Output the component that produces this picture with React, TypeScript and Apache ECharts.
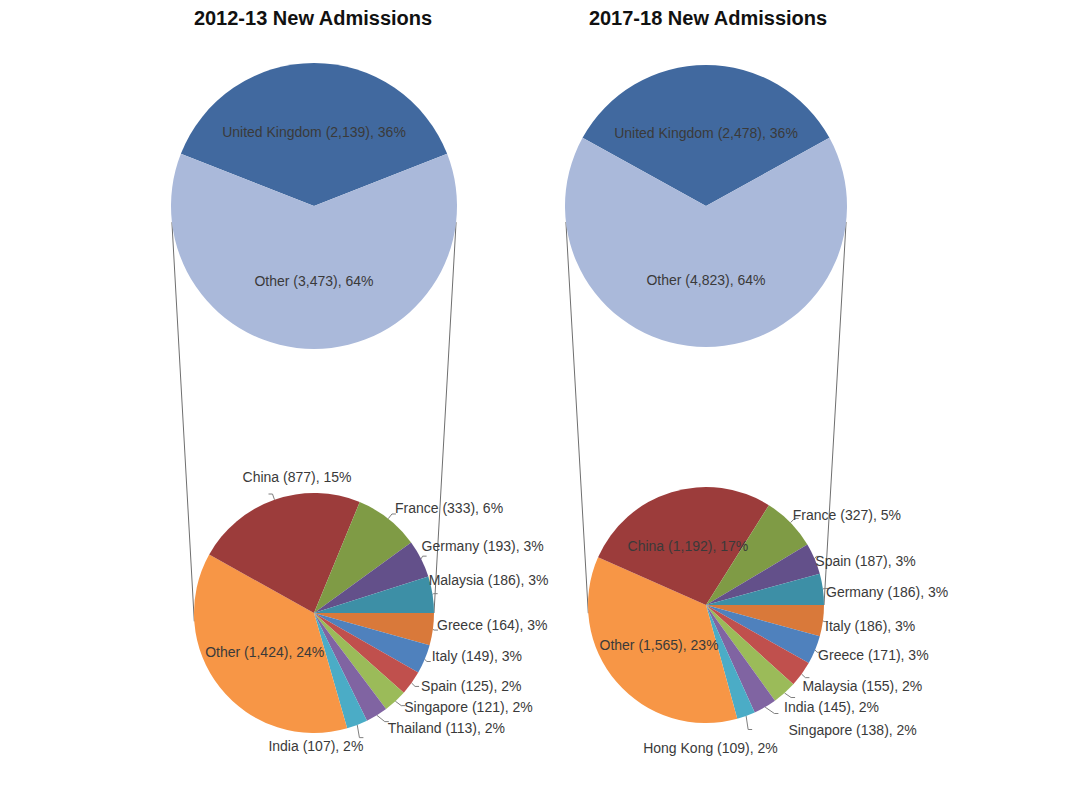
import React, { useEffect, useRef } from "react";
import * as echarts from "echarts";

// ---- Data ----
const titles = ["2012-13 New Admissions", "2017-18 New Admissions"];

const topCategories = ["United Kingdom", "Other"];
const topValues2012 = [2139, 3473];
const topPct2012 = [36, 64];
const topValues2017 = [2478, 4823];
const topPct2017 = [36, 64];

const cats2012 = ["Greece", "Italy", "Spain", "Singapore", "Thailand", "India", "Other", "China", "France", "Germany", "Malaysia"];
const vals2012 = [164, 149, 125, 121, 113, 107, 1424, 877, 333, 193, 186];
const pct2012 = [3, 3, 2, 2, 2, 2, 24, 15, 6, 3, 3];

const cats2017 = ["Italy", "Greece", "Malaysia", "India", "Singapore", "Hong Kong", "Other", "China", "France", "Spain", "Germany"];
const vals2017 = [186, 171, 155, 145, 138, 109, 1565, 1192, 327, 187, 186];
const pct2017 = [3, 3, 2, 2, 2, 2, 23, 17, 5, 3, 3];

// ---- Styles ----
const topColors = ["#41699f", "#aab9da"];
const colors2012 = ["#d9793a", "#4f81bd", "#c0504d", "#9bbb59", "#8064a2", "#4bacc6", "#f79646", "#9c3c3b", "#7f9b45", "#63508a", "#3d8fa6"];
const colors2017 = ["#d9793a", "#4f81bd", "#c0504d", "#9bbb59", "#8064a2", "#4bacc6", "#f79646", "#9c3c3b", "#7f9b45", "#63508a", "#3d8fa6"];

const FONT = "'Liberation Sans', Arial, sans-serif";
const LABEL_COLOR = "#3a3a3a";
const fmt = (v: number) => v.toLocaleString("en-US");

const layout = [
  { cx: 314, topCy: 206, topR: 143, botCy: 613, botR: 120 },
  { cx: 706, topCy: 206, topR: 141, botCy: 605, botR: 118 },
];

// label nudges (pixels) for outside labels, by category
const nudge2012: Record<string, [number, number]> = {
  China: [88, -17],
  France: [-6, -6],
  Germany: [-10, -10],
  Malaysia: [-14, -14],
  Greece: [-6, -5],
  Italy: [-4, -6],
  Spain: [-3, 0],
  Singapore: [-6, 1],
  Thailand: [-6, 6],
  India: [-100, 8],
};
const nudge2017: Record<string, [number, number]> = {
  France: [-11, -3],
  Spain: [-10, 5],
  Germany: [-7, 4],
  Italy: [-8, 4],
  Greece: [-8, 3],
  Malaysia: [-12, 8],
  India: [-16, 9],
  Singapore: [5, 16],
  "Hong Kong": [-114, 18],
};

export default function App() {
  const ref = useRef<HTMLDivElement>(null);
  useEffect(() => {
    document.body.style.margin = "0";
    const chart = echarts.init(ref.current!, null, { renderer: "svg" });

    const topSeries = (vals: number[], pcts: number[], i: number) => ({
      type: "pie",
      center: [layout[i].cx, layout[i].topCy],
      radius: [0, layout[i].topR],
      startAngle: 90 + (vals[0] / (vals[0] + vals[1])) * 180,
      clockwise: true,
      silent: true,
      label: {
        position: "inside",
        color: LABEL_COLOR,
        fontSize: 14,
        fontFamily: FONT,
        formatter: (p: any) => `${p.name} (${fmt(p.value)}), ${pcts[p.dataIndex]}%`,
      },
      labelLine: { show: false },
      data: topCategories.map((c, k) => ({ name: c, value: vals[k], itemStyle: { color: topColors[k] } })),
    });

    const botSeries = (
      cats: string[],
      vals: number[],
      pcts: number[],
      cols: string[],
      i: number,
      insideNames: string[],
      nudge: Record<string, [number, number]>
    ) => ({
      type: "pie",
      center: [layout[i].cx, layout[i].botCy],
      radius: [0, layout[i].botR],
      startAngle: 0,
      clockwise: true,
      silent: true,
      avoidLabelOverlap: true,
      label: {
        color: LABEL_COLOR,
        fontSize: 14,
        fontFamily: FONT,
        formatter: (p: any) => `${p.name} (${fmt(p.value)}), ${pcts[p.dataIndex]}%`,
      },
      labelLine: { length: 6, length2: 4, lineStyle: { color: "#7f7f7f", width: 1 } },
      labelLayout: (params: any) => {
        const n = nudge[cats[params.dataIndex]];
        return n ? { dx: n[0], dy: n[1] } : {};
      },
      data: cats.map((c, k) => ({
        name: c,
        value: vals[k],
        itemStyle: { color: cols[k] },
        ...(insideNames.includes(c) ? { label: { position: "inside" }, labelLine: { show: false } } : {}),
      })),
    });

    const lines: any[] = [];
    layout.forEach((l) => {
      const ta = (6.5 * Math.PI) / 180;
      const ba = (4 * Math.PI) / 180;
      lines.push({
        type: "line",
        z: 0,
        shape: { x1: l.cx - l.topR * Math.cos(ta), y1: l.topCy + l.topR * Math.sin(ta), x2: l.cx - l.botR * Math.cos(ba), y2: l.botCy + l.botR * Math.sin(ba) },
        style: { stroke: "#6f6f6f", lineWidth: 1 },
      });
      lines.push({
        type: "line",
        z: 0,
        shape: { x1: l.cx + l.topR * Math.cos(ta), y1: l.topCy + l.topR * Math.sin(ta), x2: l.cx + l.botR, y2: l.botCy },
        style: { stroke: "#6f6f6f", lineWidth: 1 },
      });
    });

    chart.setOption({
      animation: false,
      backgroundColor: "#ffffff",
      title: titles.map((t, i) => ({
        text: t,
        left: layout[i].cx - (i === 0 ? 6 : 3),
        top: 3,
        textAlign: "center",
        textStyle: { fontSize: 20, fontWeight: "bold", color: "#111", fontFamily: FONT },
      })),
      graphic: lines,
      series: [
        topSeries(topValues2012, topPct2012, 0),
        topSeries(topValues2017, topPct2017, 1),
        botSeries(cats2012, vals2012, pct2012, colors2012, 0, ["Other"], nudge2012),
        botSeries(cats2017, vals2017, pct2017, colors2017, 1, ["Other", "China"], nudge2017),
      ],
    });
    return () => chart.dispose();
  }, []);
  return <div ref={ref} style={{ width: 1080, height: 785 }} />;
}
